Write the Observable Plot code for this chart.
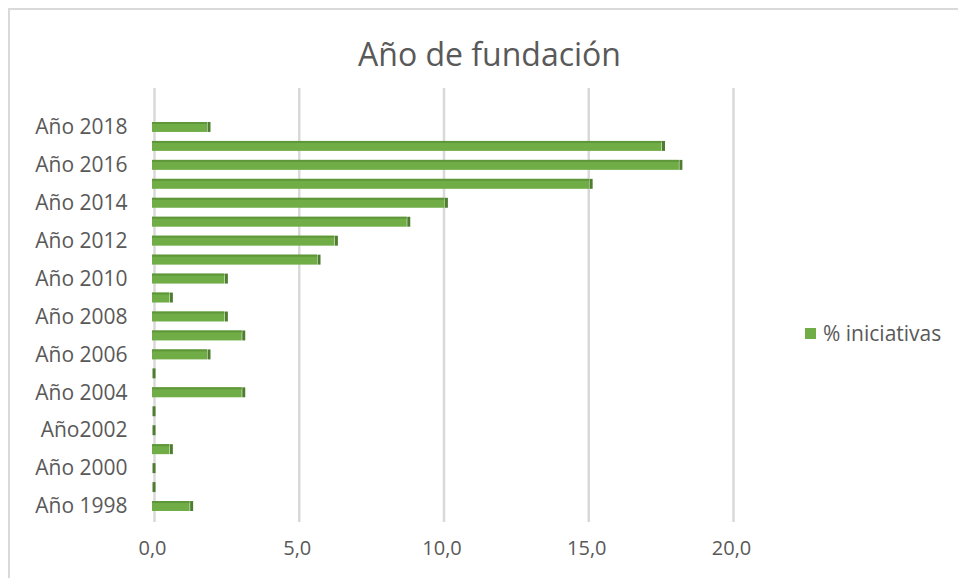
<!DOCTYPE html>
<html>
<head>
<meta charset="utf-8">
<script src="https://cdn.jsdelivr.net/npm/d3@7"></script>
<script src="https://cdn.jsdelivr.net/npm/@observablehq/plot@0.6"></script>
<style>
  body { margin: 0; background: #fff; }
  #wrap { position: relative; width: 958px; height: 578px; overflow: hidden; font-family: "Open Sans", sans-serif; color: #595959; }
  #frame { position: absolute; left: 8px; top: 8px; width: 980px; height: 600px; border-left: 2px solid #d9d9d9; border-top: 2px solid #d9d9d9; }
  #chart { position: absolute; left: 0; top: 0; }
  #title { position: absolute; left: 0; width: 979px; top: 38px; text-align: center; font-size: 32px; line-height: 31px; white-space: nowrap; }
  #legend { position: absolute; left: 805px; top: 320px; font-size: 21px; line-height: 26px; display: flex; align-items: center; white-space: nowrap; }
  #legend .sw { width: 11px; height: 11px; background: #70ad47; margin-right: 7px; }
</style>
</head>
<body>
<div id="wrap">
  <div id="frame"></div>
  <div id="chart"></div>
  <div id="title">Año de fundación</div>
  <div id="legend"><span class="sw"></span><span>% iniciativas</span></div>
</div>
<script>
// Categories (top to bottom)
const years = ["2018","2017","2016","2015","2014","2013","2012","2011","2010","2009","2008",
               "2007","2006","2005","2004","2003","2002","2001","2000","1999","1998"];
// % iniciativas
const values = [1.9, 17.6, 18.2, 15.1, 10.1, 8.8, 6.3, 5.7, 2.5, 0.6, 2.5,
                3.1, 1.9, 0.0, 3.1, 0.0, 0.0, 0.6, 0.0, 0.0, 1.3];
// Y tick labels (every other year)
const labelYears = ["2018","2016","2014","2012","2010","2008","2006","2004","2002","2000","1998"];
const labelTexts = ["Año 2018","Año 2016","Año 2014","Año 2012","Año 2010","Año 2008",
                    "Año 2006","Año 2004","Año2002","Año 2000","Año 1998"];
// X ticks
const xTicks = [0, 5, 10, 15, 20];

const data = years.map((y, i) => ({year: y, value: values[i]}));
const labelMap = new Map(labelYears.map((y, i) => [y, labelTexts[i]]));

const chart = Plot.plot({
  width: 958,
  height: 578,
  marginLeft: 152,
  marginRight: 227,
  marginTop: 88,
  marginBottom: 56,
  style: { fontFamily: "'Open Sans', sans-serif", fontSize: "20px", color: "#595959", background: "transparent", overflow: "visible" },
  x: { domain: [0, 20], label: null },
  y: { type: "band", domain: years, paddingInner: 0, paddingOuter: 0, round: false, range: [117.5, 515.5], label: null },
  marks: [
    Plot.ruleX(xTicks, { x: d => d, stroke: "#d9d9d9", strokeWidth: 2.5, dx: 2 }),
    Plot.barX(data, { x: "value", y: "year", fill: "#70ad47", insetTop: 4.5, insetBottom: 4.5 }),
    Plot.barX(data, { x: "value", y: "year", fill: "#5e9639", insetTop: 4.5, insetBottom: 12.5 }),
    Plot.tickX(data, { x: "value", y: "year", stroke: "#4e7d30", strokeWidth: 3, dx: 1.5, insetTop: 4.5, insetBottom: 4.5 }),
    Plot.axisX({ ticks: xTicks, tickSize: 0, tickPadding: 18, tickFormat: d => d.toFixed(1).replace(".", ","), fontSize: 20, label: null }),
    Plot.axisY({ ticks: labelYears, tickSize: 0, tickPadding: 25, tickFormat: d => labelMap.get(d), fontSize: 21, label: null })
  ]
});
document.getElementById("chart").appendChild(chart);
</script>
</body>
</html>
